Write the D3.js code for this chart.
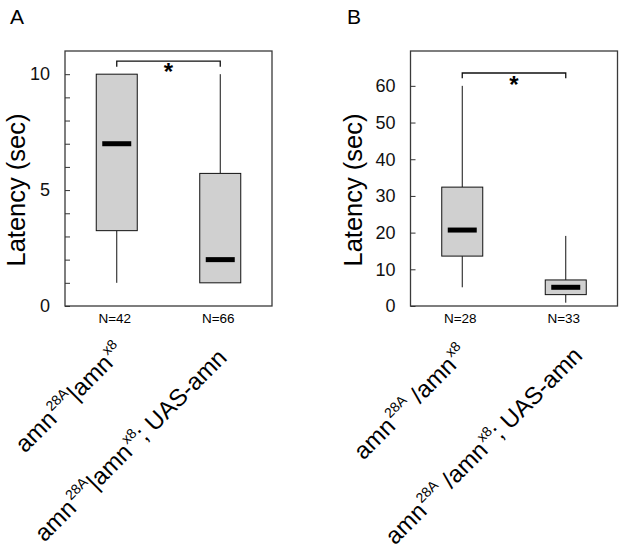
<!DOCTYPE html>
<html><head><meta charset="utf-8">
<script src="https://cdn.jsdelivr.net/npm/d3@7"></script>
<style>body{margin:0;background:#fff}svg{display:block}text{font-family:"Liberation Sans",Arial,sans-serif}</style>
</head><body>
<svg id="c" width="624" height="548"></svg>
<script>
// Panel A data
const groupsA = ["g1","g2"];
const nLabelsA = ["N=42","N=66"];
const whiskerLowA = [1, 1];
const q1A = [3.25, 1];
const medianA = [7, 2];
const q3A = [10, 5.72];
const whiskerHighA = [10, 10];
const yDomainA = [0, 11];
const majorTicksA = [0, 5, 10];
const minorTicksA = [1,2,3,4,6,7,8,9];
const bracketA = [10.56, 10.32];

// Panel B data
const groupsB = ["g1","g2"];
const nLabelsB = ["N=28","N=33"];
const whiskerLowB = [5.1, 0.9];
const q1B = [13.6, 3.1];
const medianB = [20.7, 5.1];
const q3B = [32.4, 7.1];
const whiskerHighB = [60, 19.1];
const yDomainB = [0, 69.5];
const majorTicksB = [0, 10, 20, 30, 40, 50, 60];
const minorTicksB = [];
const bracketB = [63.5, 62.1];

// Category labels: [text, isSuperscript]
const catLabelsA = [
  [["amn",0],["28A",1],["|amn",0],["x8",1]],
  [["amn",0],["28A",1],["|amn",0],["x8",1],["; UAS-amn",0]]
];
const catLabelsB = [
  [["amn",0],["28A",1],[" /amn",0],["x8",1]],
  [["amn",0],["28A",1],[" /amn",0],["x8",1],["; UAS-amn",0]]
];

const svg = d3.select("#c");

function panel(opt) {
  const g = svg.append("g");
  const x = d3.scalePoint().domain(opt.groups).range([opt.left, opt.left + 207]).padding(0.5);
  const y = d3.scaleLinear().domain(opt.yDomain).range([306, 51]);

  g.append("text").attr("x", opt.letterX).attr("y", 24).attr("font-size", 21).text(opt.letter);

  g.append("rect").attr("x", opt.left).attr("y", 51).attr("width", 207).attr("height", 255)
    .attr("fill", "none").attr("stroke", "#3a3a3a").attr("stroke-width", 1.3);

  const axis = d3.axisLeft(y).tickValues(opt.majorTicks).tickSize(-5).tickPadding(15).tickFormat(d3.format("d"));
  const ax = g.append("g").attr("transform", `translate(${opt.left},0)`).call(axis);
  ax.select(".domain").remove();
  ax.selectAll(".tick line").attr("stroke", "#333");
  ax.selectAll(".tick text").attr("font-size", 18).attr("fill", "#111")
    .attr("font-family", '"Liberation Sans",Arial,sans-serif');
  if (opt.minorTicks.length) {
    const axm = d3.axisLeft(y).tickValues(opt.minorTicks).tickSize(-5).tickFormat("");
    const m = g.append("g").attr("transform", `translate(${opt.left},0)`).call(axm);
    m.select(".domain").remove();
    m.selectAll(".tick line").attr("stroke", "#333");
  }

  g.append("text").attr("transform", `translate(${opt.ylabX},190) rotate(-90)`)
    .attr("text-anchor", "middle").attr("font-size", 25.5).text("Latency (sec)");

  const bw = 41, mw = 29;
  opt.groups.forEach((k, i) => {
    const cx = x(k);
    g.append("line").attr("x1", cx).attr("x2", cx).attr("y1", y(opt.q3[i])).attr("y2", y(opt.wh[i]))
      .attr("stroke", "#111").attr("stroke-width", 1);
    g.append("line").attr("x1", cx).attr("x2", cx).attr("y1", y(opt.q1[i])).attr("y2", y(opt.wl[i]))
      .attr("stroke", "#111").attr("stroke-width", 1);
    g.append("rect").attr("x", cx - bw/2).attr("y", y(opt.q3[i])).attr("width", bw)
      .attr("height", y(opt.q1[i]) - y(opt.q3[i])).attr("fill", "#d0d0d0")
      .attr("stroke", "#111").attr("stroke-width", 1);
    g.append("rect").attr("x", cx - mw/2).attr("y", y(opt.med[i]) - 2.5).attr("width", mw)
      .attr("height", 5).attr("fill", "#000");
    g.append("text").attr("x", cx - 2).attr("y", 322.5).attr("text-anchor", "middle")
      .attr("font-size", 13.5).text(opt.nLabels[i]);
    const t = g.append("text").attr("text-anchor", "end").attr("font-size", 24)
      .attr("transform", `translate(${cx + opt.catDx[i]},${opt.catY[i]}) rotate(-45)`);
    const parts = opt.cat[i];
    parts.forEach(([s, sup], j) => {
      const prev = j > 0 ? parts[j-1][1] : 0;
      const ts = t.append("tspan").text(s)
        .attr("dy", sup && !prev ? -11 : (!sup && prev ? 11 : 0));
      if (sup) ts.attr("font-size", 14).attr("dx", 1.5);
    });
  });

  const x1 = x(opt.groups[0]), x2 = x(opt.groups[1]);
  g.append("path").attr("d", `M${x1},${y(opt.bracket[1])}V${y(opt.bracket[0])}H${x2}V${y(opt.bracket[1])}`)
    .attr("fill", "none").attr("stroke", "#111").attr("stroke-width", 1.3);
  g.append("text").attr("x", (x1 + x2) / 2).attr("y", y(opt.bracket[0]) + opt.starDy)
    .attr("text-anchor", "middle").attr("font-size", 24).attr("font-weight", "bold").text("*");
}

panel({left: 65, groups: groupsA, nLabels: nLabelsA, wl: whiskerLowA, q1: q1A, med: medianA, q3: q3A, wh: whiskerHighA,
  yDomain: yDomainA, majorTicks: majorTicksA, minorTicks: minorTicksA, bracket: bracketA, letter: "A", letterX: 10,
  ylabX: 25, cat: catLabelsA, catDx: [9, 8], catY: [353, 359], starDy: 19});
panel({left: 410.5, groups: groupsB, nLabels: nLabelsB, wl: whiskerLowB, q1: q1B, med: medianB, q3: q3B, wh: whiskerHighB,
  yDomain: yDomainB, majorTicks: majorTicksB, minorTicks: minorTicksB, bracket: bracketB, letter: "B", letterX: 347,
  ylabX: 362, cat: catLabelsB, catDx: [7, 18], catY: [355, 357], starDy: 20});
</script>
</body></html>
